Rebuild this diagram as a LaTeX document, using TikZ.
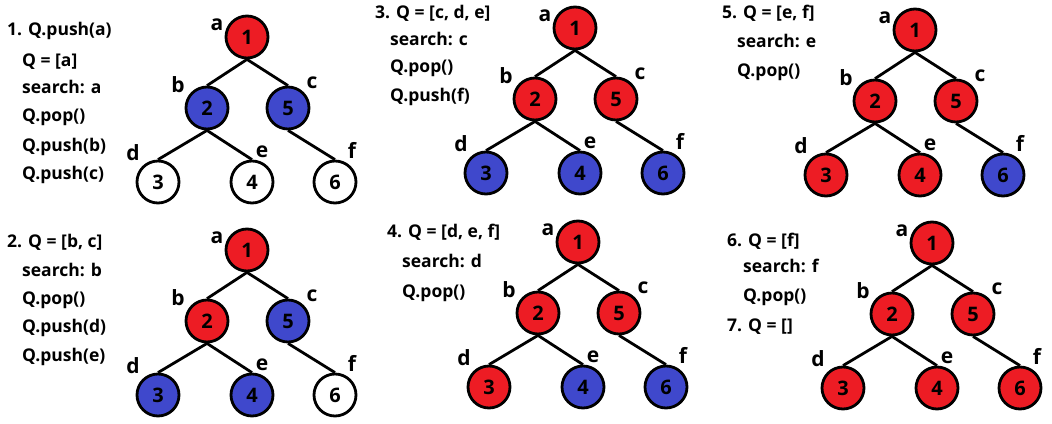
\documentclass[tikz,border=0pt]{standalone}
\usepackage{fontspec}
\setmainfont{Open Sans}
\definecolor{pred}{RGB}{237,28,36}
\definecolor{pblue}{RGB}{63,72,204}
\tikzset{
  vnode/.style={circle, draw=black, line width=2.8pt, minimum size=42pt, inner sep=0pt, font=\bfseries\fontsize{20}{20}\selectfont},
  rd/.style={vnode, fill=pred},
  bl/.style={vnode, fill=pblue},
  wh/.style={vnode, fill=white},
  edge/.style={line width=2.8pt},
  lbl/.style={font=\bfseries\fontsize{21}{21}\selectfont, inner sep=0pt},
  txt/.style={anchor=west, font=\bfseries\fontsize{17.5}{17.5}\selectfont, inner sep=0pt, text height=12pt, text depth=3.5pt},
}
\newcommand\drawtree[8]{%
  \begin{scope}[shift={(#1,#2)}]
    \node[rd] (#3n1) at (0,0) {1};
    \node[#4] (#3n2) at (-40,71) {2};
    \node[#5] (#3n5) at (41,71) {5};
    \node[#6] (#3n3) at (-89,145) {3};
    \node[#7] (#3n4) at (5,145) {4};
    \node[#8] (#3n6) at (88,145) {6};
    \draw[edge] (#3n1.south) -- (#3n2.north);
    \draw[edge] (#3n1.south) -- (#3n5.north);
    \draw[edge] (#3n2.south) -- (#3n3.north);
    \draw[edge] (#3n2.south) -- (#3n4.north);
    \draw[edge] (#3n5.south) -- (#3n6.north);
    \node[lbl] (#3la) at (-30,-12) {a};
    \node[lbl] (#3lb) at (-69,48) {b};
    \node[lbl] (#3lc) at (65,46) {c};
    \node[lbl] (#3ld) at (-114,116) {d};
    \node[lbl] (#3le) at (15,115) {e};
    \node[lbl] (#3lf) at (105,113) {f};
  \end{scope}}
\begin{document}
\begin{tikzpicture}[x=1pt,y=-1pt]
\useasboundingbox[fill=white] (0,0) rectangle (1052,423);
% panel 1
\drawtree{247}{37}{p1}{bl}{bl}{wh}{wh}{wh}
\node[txt] (t11) at (7,31) {1. Q.push(a)};
\node[txt] (t12) at (22,62) {Q = [a]};
\node[txt] (t13) at (22,89) {search: a};
\node[txt] (t14) at (22,117) {Q.pop()};
\node[txt] (t15) at (22,147) {Q.push(b)};
\node[txt] (t16) at (22,175) {Q.push(c)};
% panel 2
\drawtree{247}{250}{p2}{rd}{bl}{bl}{bl}{wh}
\node[txt] (t21) at (7,243) {2. Q = [b, c]};
\node[txt] (t22) at (22,272) {search: b};
\node[txt] (t23) at (22,300) {Q.pop()};
\node[txt] (t24) at (22,328) {Q.push(d)};
\node[txt] (t25) at (22,357) {Q.push(e)};
% panel 3
\drawtree{575}{28}{p3}{rd}{rd}{bl}{bl}{bl}
\node[txt] (t31) at (375,14) {3. Q = [c, d, e]};
\node[txt] (t32) at (390,41) {search: c};
\node[txt] (t33) at (390,68) {Q.pop()};
\node[txt] (t34) at (390,97) {Q.push(f)};
% panel 4
\drawtree{578}{242}{p4}{rd}{rd}{rd}{bl}{bl}
\node[txt] (t41) at (387,233) {4. Q = [d, e, f]};
\node[txt] (t42) at (402,263) {search: d};
\node[txt] (t43) at (402,293) {Q.pop()};
% panel 5
\drawtree{915}{30}{p5}{rd}{rd}{rd}{rd}{bl}
\node[txt] (t51) at (722,14) {5. Q = [e, f]};
\node[txt] (t52) at (737,43) {search: e};
\node[txt] (t53) at (737,72) {Q.pop()};
% panel 6
\drawtree{932}{243}{p6}{rd}{rd}{rd}{rd}{rd}
\node[txt] (t61) at (727,242) {6. Q = [f]};
\node[txt] (t62) at (743,268) {search: f};
\node[txt] (t63) at (743,297) {Q.pop()};
\node[txt] (t64) at (727,327) {7. Q = []};
\end{tikzpicture}
\end{document}
